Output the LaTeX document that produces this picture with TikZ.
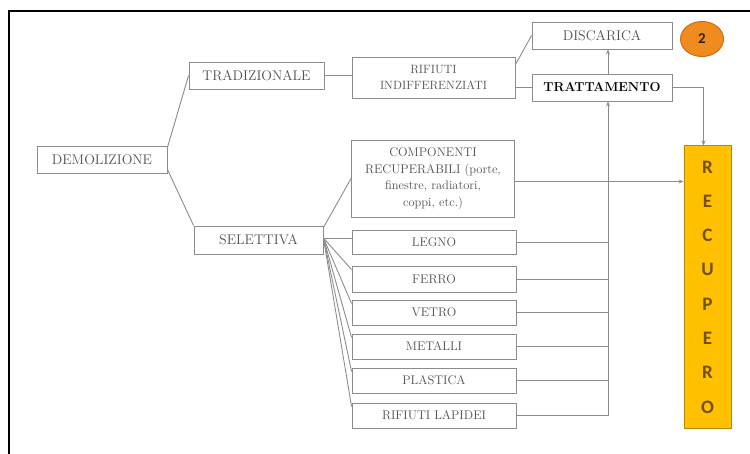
\documentclass[tikz,border=0pt]{standalone}
\usepackage{fontspec}
\usetikzlibrary{shapes.geometric,arrows.meta}
\newfontfamily\recfont{Carlito}
\definecolor{linegray}{RGB}{140,140,140}
\definecolor{textgray}{RGB}{80,80,80}
\definecolor{recyellow}{RGB}{255,192,0}
\definecolor{recborder}{RGB}{185,135,0}
\definecolor{recletter}{RGB}{115,80,0}
\definecolor{numorange}{RGB}{240,140,30}
\definecolor{numborder}{RGB}{205,110,20}
\tikzset{
  box/.style={draw=linegray,line width=0.9pt,inner sep=0pt,text=textgray,align=center},
  bigtxt/.style={font=\fontsize{14}{16}\selectfont},
  smalltxt/.style={font=\fontsize{12.5}{14}\selectfont},
  tinytxt/.style={font=\fontsize{12.5}{16.5}\selectfont},
  link/.style={draw=linegray,line width=0.9pt},
  arr/.style={link,-{Stealth[length=5pt,width=4pt]}}
}

\begin{document}
\begin{tikzpicture}[x=1pt,y=-1pt]
  \useasboundingbox (0,0) rectangle (750,454);
  \draw[line width=2pt] (9,454) -- (9,11) -- (750,11);

  % first level
  \node[box,bigtxt,minimum width=130,minimum height=27] (dem) at (102,159.5) {DEMOLIZIONE};
  \node[box,bigtxt,minimum width=135,minimum height=27] (trad) at (256.5,75.5) {TRADIZIONALE};
  \node[box,bigtxt,minimum width=129,minimum height=28] (sel) at (258.5,240) {SELETTIVA};

  % tradizionale
  \node[box,font=\fontsize{12}{16.5}\selectfont,minimum width=163,minimum height=41] (rif) at (433.5,77.5) {RIFIUTI\\INDIFFERENZIATI};
  \node[box,bigtxt,minimum width=140,minimum height=27] (dis) at (602,35.5) {DISCARICA};
  \node[box,bigtxt,minimum width=140,minimum height=27,text=black,font=\fontsize{13}{15}\selectfont\bfseries] (tra) at (602,87.5) {TRATTAMENTO};
  \node[ellipse,draw=numborder,line width=1pt,fill=numorange,minimum width=43,minimum height=35,
        font=\recfont\bfseries\fontsize{15}{17}\selectfont,text=black!85] (num) at (702,39) {2};

  % selettiva
  \node[box,tinytxt,minimum width=163,minimum height=77] (comp) at (433,178.5)
    {COMPONENTI\\RECUPERABILI (porte,\\finestre, radiatori,\\coppi, etc.)};
  \node[box,smalltxt,minimum width=164,minimum height=24] (legno) at (434,242) {LEGNO};
  \node[box,smalltxt,minimum width=164,minimum height=26] (ferro) at (434,279) {FERRO};
  \node[box,smalltxt,minimum width=164,minimum height=25] (vetro) at (434,312.5) {VETRO};
  \node[box,smalltxt,minimum width=164,minimum height=25] (metalli) at (434,346.5) {METALLI};
  \node[box,smalltxt,minimum width=164,minimum height=25] (plastica) at (434,380.5) {PLASTICA};
  \node[box,smalltxt,minimum width=164,minimum height=25] (lapidei) at (434,415.5) {RIFIUTI LAPIDEI};

  % recupero
  \node[draw=recborder,line width=1pt,fill=recyellow,minimum width=47,minimum height=282,inner sep=0pt,
        align=center,text=recletter,font=\recfont\bfseries\fontsize{19}{34.3}\selectfont] (rec) at (707.5,287)
    {R\\E\\C\\U\\P\\E\\R\\O};
  \coordinate (trunk) at (608,0);

  % connectors
  \draw[link] ([yshift=-2pt]dem.north east) -- (trad.west);
  \draw[link] ([yshift=4pt]dem.south east) -- (sel.north west);
  \draw[link] (trad.east) -- (trad.east -| rif.west);
  \draw[link] ([yshift=-8pt]rif.north east) -- (dis.west);
  \draw[link] (tra.west) -- (tra.west -| rif.east);
  \draw[arr] (tra.north -| trunk) -- (dis.south -| trunk);
  \draw[arr] (tra.east) -| ([xshift=-4pt]rec.north);
  \draw[arr] ([yshift=-3pt]comp.east) -- ([yshift=-3pt]comp.east -| rec.west);
  \draw[link] ([yshift=-2pt]sel.north east) -- (comp.west);
  \draw[link] ([yshift=2pt]sel.east) -- ([yshift=4pt]legno.west);
  \foreach \b in {ferro,vetro,metalli,plastica,lapidei}
    \draw[link] ([yshift=2pt]sel.east) -- ([yshift=-4pt]\b.north west);
  \foreach \b in {legno,ferro,vetro,metalli,plastica}
    \draw[link] (\b.east) -- (\b.east -| trunk);
  \draw[arr] (lapidei.east) -| (tra.south -| trunk);
\end{tikzpicture}
\end{document}
